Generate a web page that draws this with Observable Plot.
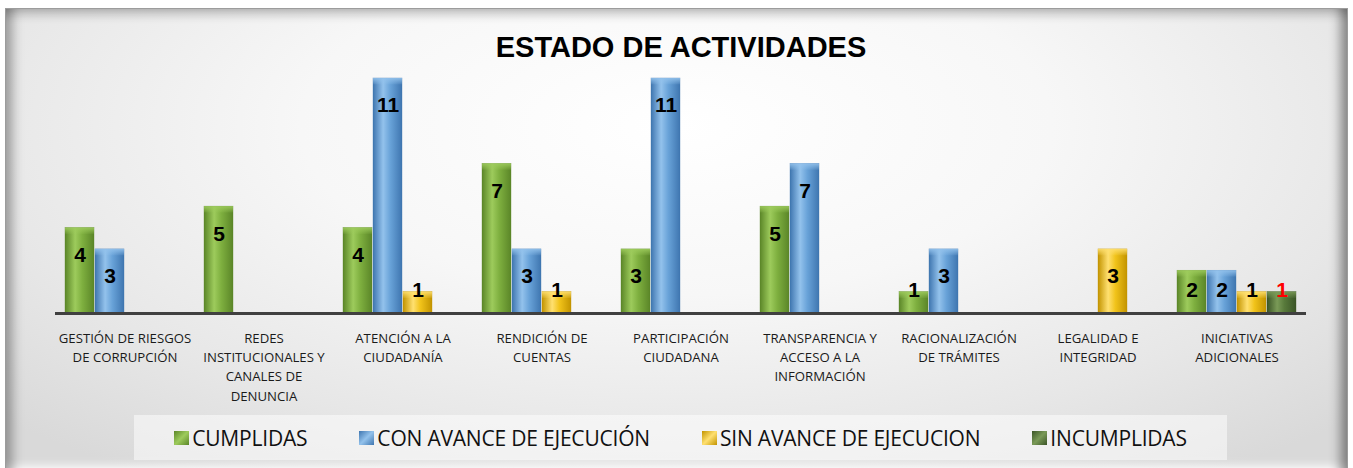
<!DOCTYPE html>
<html>
<head>
<meta charset="utf-8">
<script src="https://cdn.jsdelivr.net/npm/d3@7"></script>
<script src="https://cdn.jsdelivr.net/npm/@observablehq/plot@0.6"></script>
<style>
  html, body { margin: 0; padding: 0; background: #ffffff; width: 1353px; height: 468px; overflow: hidden; }
  #frame {
    position: absolute; left: 5px; top: 8px; width: 1343px; height: 470px;
    border: 1px solid #9c9c9c; border-bottom: none; box-sizing: border-box;
    background: radial-gradient(ellipse 70% 90% at 50% 25%, #ffffff 0%, #f7f7f7 40%, #e7e7e7 75%, #d9d9d9 100%);
    box-shadow: inset 14px 0 12px -8px rgba(0,0,0,0.35), inset -14px 0 12px -8px rgba(0,0,0,0.45),
                inset 0 14px 10px -8px rgba(0,0,0,0.2), inset 0 -18px 10px -6px rgba(255,255,255,0.95);
  }
  #title {
    position: absolute; left: 0; top: 33px; width: 1362px; text-align: center;
    font: bold 29px/28px "Liberation Sans", Arial, sans-serif; color: #000;
  }
  #chart { position: absolute; left: 0; top: 60px; }
  #legend {
    position: absolute; left: 134px; top: 415px; width: 1093px; height: 45px;
    background: rgba(255,255,255,0.5);
    display: flex; align-items: center; justify-content: center; gap: 52px;
    font: 21px "Open Sans", sans-serif; color: #111; letter-spacing: -0.2px;
  }
  .item { display: flex; align-items: center; gap: 3px; white-space: nowrap; }
  .sw { width: 15px; height: 14px; display: inline-block; }
</style>
</head>
<body>
<div id="frame"></div>
<div id="title">ESTADO DE ACTIVIDADES</div>
<div id="chart"></div>
<div id="legend"></div>
<script>
// ---- data ----
const categories = [
  "GESTIÓN DE RIESGOS DE CORRUPCIÓN",
  "REDES INSTITUCIONALES Y CANALES DE DENUNCIA",
  "ATENCIÓN A LA CIUDADANÍA",
  "RENDICIÓN DE CUENTAS",
  "PARTICIPACIÓN CIUDADANA",
  "TRANSPARENCIA Y ACCESO A LA INFORMACIÓN",
  "RACIONALIZACIÓN DE TRÁMITES",
  "LEGALIDAD E INTEGRIDAD",
  "INICIATIVAS ADICIONALES"
];
const tickLabels = [
  "GESTIÓN DE RIESGOS\nDE CORRUPCIÓN",
  "REDES\nINSTITUCIONALES Y\nCANALES DE\nDENUNCIA",
  "ATENCIÓN A LA\nCIUDADANÍA",
  "RENDICIÓN DE\nCUENTAS",
  "PARTICIPACIÓN\nCIUDADANA",
  "TRANSPARENCIA Y\nACCESO A LA\nINFORMACIÓN",
  "RACIONALIZACIÓN\nDE TRÁMITES",
  "LEGALIDAD E\nINTEGRIDAD",
  "INICIATIVAS\nADICIONALES"
];
const seriesNames = ["CUMPLIDAS", "CON AVANCE DE EJECUCIÓN", "SIN AVANCE DE EJECUCION", "INCUMPLIDAS"];
const cumplidas   = [4, 5, 4, 7, 3, 5, 1, null, 2];
const conAvance   = [3, null, 11, 3, 11, 7, 3, null, 2];
const sinAvance   = [null, null, 1, 1, null, null, null, 3, 1];
const incumplidas = [null, null, null, null, null, null, null, null, 1];
const seriesValues = [cumplidas, conAvance, sinAvance, incumplidas];

// ---- styles ----
const seriesColors = [
  {edge: "#5b8628", mid: "#9dcb5c", base: "#7eaf3f", label: "#000"},
  {edge: "#3f76b0", mid: "#93c2ec", base: "#68a2d8", label: "#000"},
  {edge: "#c39400", mid: "#ffe070", base: "#f1c31a", label: "#000"},
  {edge: "#3b5527", mid: "#7a9a57", base: "#587a3b", label: "#ff0000"}
];

const rows = [];
seriesValues.forEach((vals, si) => {
  vals.forEach((v, ci) => {
    if (v != null) rows.push({cat: categories[ci], series: seriesNames[si], si, value: v});
  });
});

const marks = [];
seriesNames.forEach((s, si) => {
  const data = rows.filter(d => d.si === si);
  marks.push(Plot.barY(data, {fx: "cat", x: "series", y: "value", fill: `url(#grad${si})`,
    stroke: seriesColors[si].edge, strokeWidth: 0.6, strokeOpacity: 0.6}));
  marks.push(Plot.barY(data, {fx: "cat", x: "series", y1: d => d.value - 0.3, y2: "value", fill: `url(#cap${si})`}));
});
marks.push(Plot.ruleY([0], {stroke: "#404040", strokeWidth: 3}));
marks.push(Plot.text(rows, {
  fx: "cat", x: "series", y: d => Math.max(d.value - 1.27, 1.1), text: d => String(d.value),
  fill: d => seriesColors[d.si].label, fontSize: 21, fontWeight: "bold",
  fontFamily: "'Liberation Sans', Arial, sans-serif"
}));
marks.push(Plot.axisFx({
  anchor: "bottom", tickSize: 0, tickPadding: 16, label: null, fontSize: 13.2, lineHeight: 1.45,
  tickFormat: c => tickLabels[categories.indexOf(c)]
}));

const chart = Plot.plot({
  width: 1353, height: 350,
  marginLeft: 53, marginRight: 46, marginTop: 18, marginBottom: 97,
  style: {background: "transparent", color: "#1a1a1a", fontFamily: "'Open Sans', sans-serif", overflow: "visible"},
  fx: {domain: categories, padding: 0, axis: null},
  x: {domain: seriesNames, paddingInner: 0.05, paddingOuter: 0.3, axis: null},
  y: {domain: [0, 11], axis: null},
  marks
});

let defs = "<defs>";
seriesColors.forEach((c, i) => {
  defs += `<linearGradient id="grad${i}" x1="0" x2="1" y1="0" y2="0">
    <stop offset="0" stop-color="${c.edge}"/><stop offset="0.35" stop-color="${c.mid}"/>
    <stop offset="0.6" stop-color="${c.base}"/><stop offset="1" stop-color="${c.edge}"/></linearGradient>
    <linearGradient id="cap${i}" x1="0" x2="0" y1="0" y2="1">
    <stop offset="0" stop-color="${c.mid}" stop-opacity="0.9"/><stop offset="1" stop-color="${c.mid}" stop-opacity="0.1"/></linearGradient>`;
});
defs += "</defs>";
chart.insertAdjacentHTML("afterbegin", defs);
document.getElementById("chart").appendChild(chart);

const legend = document.getElementById("legend");
seriesNames.forEach((s, i) => {
  const c = seriesColors[i];
  const item = document.createElement("div");
  item.className = "item";
  item.innerHTML = `<span class="sw" style="background:linear-gradient(135deg, ${c.edge}, ${c.mid} 50%, ${c.edge})"></span><span>${s}</span>`;
  legend.appendChild(item);
});
</script>
</body>
</html>
